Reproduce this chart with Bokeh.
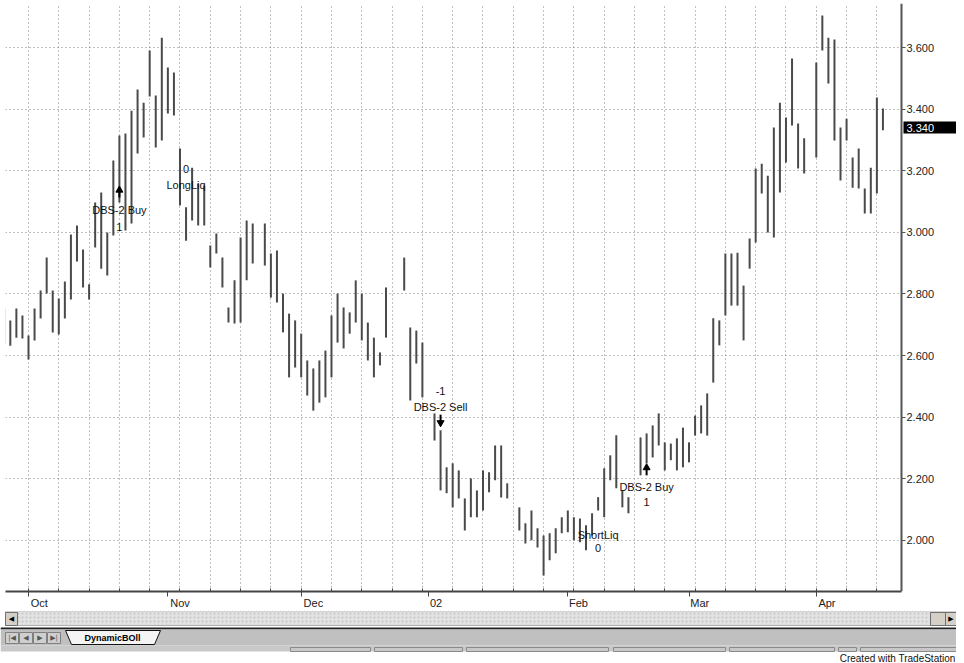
from bokeh.plotting import figure
from bokeh.models import Range1d, FixedTicker, NumeralTickFormatter, Label, ColumnDataSource
from bokeh.embed import file_html
from bokeh.resources import INLINE
from bokeh.core.properties import value

# ---------------- data (daily bars, weekday index from Oct 1 2001) ----------------
first_day = -4
highs = [2.753, 2.714, 2.753, 2.730, 2.665, 2.753, 2.811, 2.918, 2.811, 2.785,
         2.840, 2.993, 3.022, 2.944, 2.831, 3.097, 3.129, 2.999, 3.233, 3.314,
         3.321, 3.395, 3.464, 3.421, 3.590, 3.444, 3.632, 3.535, 3.519, 3.272,
         3.081, 3.210, 3.158, 3.152, 2.957, 2.996, 2.918, 2.756, 2.844, 2.983,
         3.038, 3.029, None, 3.029, 2.931, 2.941, 2.801, 2.736, 2.714, 2.671,
         2.584, 2.558, 2.584, 2.616, 2.730, 2.801, 2.756, 2.740, 2.844, 2.801,
         2.707, 2.658, 2.610, 2.821, None, None, 2.918, 2.691, 2.681, 2.642,
         None, 2.412, 2.357, 2.237, 2.250, 2.227, 2.136, 2.201, 2.162, 2.227,
         2.221, 2.308, 2.308, 2.185, None, 2.107, 2.055, 2.097, 2.039, 2.016,
         2.023, 2.039, 2.075, 2.097, 2.075, 2.071, 2.049, 2.088, 2.140, 2.234,
         2.276, 2.341, 2.162, 2.140, None, 2.334, 2.347, 2.373, 2.412, 2.318,
         2.314, 2.331, 2.366, 2.318, 2.405, 2.438, 2.477, 2.721, 2.714, 2.931,
         2.931, 2.934, 2.827, 2.980, 3.207, 3.223, 3.184, 3.340, 3.421, 3.373,
         3.564, 3.353, 3.305, None, 3.551, 3.704, 3.632, 3.626, 3.340, 3.369,
         3.243, 3.272, 3.142, 3.210, 3.438, 3.402]
lows = [2.639, 2.632, 2.658, 2.655, 2.587, 2.649, 2.720, 2.801, 2.675, 2.668,
        2.720, 2.782, 2.905, 2.821, 2.782, 2.951, 2.882, 2.860, 2.990, 3.097,
        3.006, 3.029, 3.256, 3.308, 3.441, 3.275, 3.298, 3.386, 3.379, 3.087,
        2.973, 3.038, 3.022, 3.022, 2.886, 2.931, 2.821, 2.707, 2.704, 2.707,
        2.844, 2.899, None, 2.892, 2.788, 2.772, 2.675, 2.529, 2.561, 2.529,
        2.470, 2.421, 2.447, 2.464, 2.529, 2.642, 2.623, 2.671, 2.707, 2.649,
        2.584, 2.529, 2.568, 2.658, None, None, 2.811, 2.454, 2.574, 2.464,
        None, 2.324, 2.162, 2.153, 2.107, 2.136, 2.032, 2.075, 2.075, 2.097,
        2.156, 2.195, 2.139, 2.136, None, 2.032, 1.990, 2.000, 1.977, 1.886,
        1.935, 1.958, 2.023, 2.026, 2.000, 1.994, 1.968, 2.016, 2.097, 2.075,
        2.195, 2.169, 2.107, 2.088, None, 2.211, 2.250, 2.269, 2.308, 2.227,
        2.260, 2.227, 2.237, 2.253, 2.340, 2.347, 2.340, 2.512, 2.633, 2.730,
        2.762, 2.762, 2.649, 2.882, 2.967, 3.126, 2.999, 2.983, 3.129, 3.227,
        3.347, 3.207, 3.191, None, 3.243, 3.590, 3.483, 3.298, 3.168, 3.298,
        3.145, 3.142, 3.061, 3.061, 3.126, 3.331]

month_ticks = [0, 23, 45, 66, 89, 109, 130]
month_labels = ["Oct", "Nov", "Dec", "02", "Feb", "Mar", "Apr"]
week_ticks = list(range(0, 145, 5))
price_ticks = [2.0, 2.2, 2.4, 2.6, 2.8, 3.0, 3.2, 3.4, 3.6]
last_price = 3.340

sig_day = [15, 26, 68, 94, 102]
sig_name = ["DBS-2 Buy", "LongLiq", "DBS-2 Sell", "ShortLiq", "DBS-2 Buy"]
sig_position = ["1", "0", "-1", "0", "1"]
sig_name_price = [3.071, 3.155, 2.434, 2.016, 2.172]
sig_position_price = [3.016, 3.204, 2.486, 1.974, 2.123]
arrow_day = [15, 68, 102]
arrow_tip = [3.145, 2.373, 2.244]
arrow_tail = [3.113, 2.408, 2.211]
arrow_head = ["triangle", "inverted_triangle", "triangle"]

# ---------------- build ----------------
days, hi, lo = [], [], []
for k, (h, l) in enumerate(zip(highs, lows)):
    if h is None:
        continue
    days.append(first_day + k)
    hi.append(h)
    lo.append(l)
bars = ColumnDataSource(dict(x=days, hi=hi, lo=lo))

FONT = "Liberation Sans"
x_start, x_end = -3.795, 144.06      # price pane
x_max = 153.14                       # pane + price-scale strip
y_start, y_end = 1.8338, 3.7429

p = figure(frame_width=951, frame_height=588,
           x_range=Range1d(x_start, x_max), y_range=Range1d(y_start, y_end),
           y_axis_location="right", toolbar_location=None, output_backend="svg",
           min_border_left=5, min_border_top=3, min_border_right=0, min_border_bottom=17)
p.outline_line_color = None
p.background_fill_color = "white"

# grids
p.xgrid.ticker = FixedTicker(ticks=week_ticks)
p.ygrid.ticker = FixedTicker(ticks=price_ticks)
for g in (p.xgrid, p.ygrid):
    g.grid_line_color = "#7f7f7f"
    g.grid_line_dash = "1 3"
    g.grid_line_width = 1

# white price-scale strip right of the pane (hides grid lines there)
p.quad(left=[x_end], right=[x_max], bottom=[y_start], top=[y_end],
       fill_color="white", line_color=None)

# bars
p.segment(x0="x", y0="lo", x1="x", y1="hi", source=bars, line_color="#4a4a4a", line_width=2)

# signals
sig = ColumnDataSource(dict(x=sig_day, name=sig_name, pos=sig_position,
                            ny=sig_name_price, py=sig_position_price))
p.text(x="x", y="ny", text="name", source=sig, text_font=value(FONT), text_font_size="11px",
       text_align="center", text_baseline="middle", text_color="#111111")
p.text(x="x", y="py", text="pos", source=sig, text_font=value(FONT), text_font_size="11px",
       text_align="center", text_baseline="middle", text_color="#111111")
head_y = [t + (b - t) * 0.25 for t, b in zip(arrow_tip, arrow_tail)]
arr = ColumnDataSource(dict(x=arrow_day, tip=arrow_tip, tail=arrow_tail, hy=head_y, m=arrow_head))
p.segment(x0="x", y0="tail", x1="x", y1="tip", source=arr, line_color="black", line_width=2)
p.scatter(x="x", y="hy", marker="m", source=arr, size=7, fill_color="black", line_color="black")

# x axis: month names start just right of their tick (leading no-break spaces)
pad = {"Oct": 7, "Nov": 8, "Dec": 8, "02": 5, "Feb": 7, "Mar": 7, "Apr": 7}
xa = p.xaxis[0]
xa.ticker = FixedTicker(ticks=month_ticks, minor_ticks=week_ticks)
xa.major_label_overrides = {t: "\u00a0" * pad[l] + l for t, l in zip(month_ticks, month_labels)}
xa.bounds = (x_start, x_end)
xa.major_label_standoff = 0
xa.major_tick_in = 0
xa.major_tick_out = 5
xa.minor_tick_in = 3
xa.minor_tick_out = 0
xa.axis_line_color = "#444444"
xa.axis_line_width = 2
xa.major_tick_line_color = "#444444"
xa.minor_tick_line_color = "#444444"
xa.major_label_text_font = FONT
xa.major_label_text_font_size = "11px"
xa.major_label_text_color = "#222222"

# y axis drawn at the pane's right edge, labels to its right
ya = p.yaxis[0]
ya.fixed_location = x_end
ya.ticker = FixedTicker(ticks=price_ticks)
ya.formatter = NumeralTickFormatter(format="0.000")
ya.major_tick_in = 0
ya.major_tick_out = 4
ya.minor_tick_out = 0
ya.minor_tick_in = 0
ya.major_label_standoff = 1
ya.axis_line_color = "#555555"
ya.axis_line_width = 2
ya.major_tick_line_color = "#555555"
ya.major_label_text_font = FONT
ya.major_label_text_font_size = "11px"
ya.major_label_text_color = "#222222"

p.add_layout(Label(x=x_end, y=last_price, text=f"{last_price:.3f}", x_offset=2,
                   text_baseline="middle", text_align="left", text_color="white",
                   text_font=FONT, text_font_size="11px",
                   background_fill_color="black",
                   padding=dict(left=3, right=24, top=2, bottom=2)))

# ---------------- window chrome below the chart ----------------
W, H = 956, 53
ui = figure(width=W, height=H, x_range=Range1d(0, W), y_range=Range1d(H, 0),
            toolbar_location=None, output_backend="svg", min_border=0)
ui.axis.visible = False
ui.grid.visible = False
ui.outline_line_color = None

ui.quad(left=5, right=W, top=0, bottom=14, fill_color="#e2e2e2", line_color="#b0b0b0",
        hatch_pattern="dot", hatch_color="#c4c4c4", hatch_scale=4)
ui.quad(left=[5, 930, 945], right=[17, 945, W], top=1, bottom=14,
        fill_color="#d4d0c8", line_color="#707070")
ui.text(x=[11, 950.5], y=[7.5, 7.5], text=["\u25c0", "\u25b6"], text_font=value("DejaVu Sans"),
        text_font_size="7px", text_align="center", text_baseline="middle", text_color="black")
ui.quad(left=0, right=W, top=16, bottom=18, fill_color="#222222", line_color=None)
ui.quad(left=0, right=W, top=18, bottom=34, fill_color="#c0c0c0", line_color=None)
ui.quad(left=[5, 19, 33, 47], right=[18, 32, 46, 60], top=21, bottom=32,
        fill_color="#cfcfcf", line_color="#808080")
ui.text(x=[11.5, 25.5, 39.5, 53.5], y=[26.5, 26.5, 26.5, 26.5],
        text=["|\u25c0", "\u25c0", "\u25b6", "\u25b6|"],
        text_font=value("DejaVu Sans"), text_font_size="7px", text_align="center",
        text_baseline="middle", text_color="#555555")
ui.patch(x=[65, 160, 154, 71], y=[19, 19, 33, 33], fill_color="#f4f4f4", line_color="#111111")
ui.text(x=[112], y=[26], text=["DynamicBOll"], text_font=value(FONT), text_font_size="9px",
        text_font_style="bold", text_align="center", text_baseline="middle", text_color="black")
ui.quad(left=0, right=W, top=34, bottom=40, fill_color="#c8c8c8", line_color=None)
ui.quad(left=[290, 374, 466, 613, 729, 838, 860], right=[370, 462, 608, 725, 834, 856, W],
        top=36, bottom=40, fill_color=None, line_color="#8a8a8a")
ui.text(x=[W - 1], y=[H - 1], text=["Created with TradeStation"], text_font=value(FONT),
        text_font_size="10px", text_align="right", text_baseline="bottom", text_color="#111111")

open("out.html", "w").write(file_html([p, ui], INLINE))
